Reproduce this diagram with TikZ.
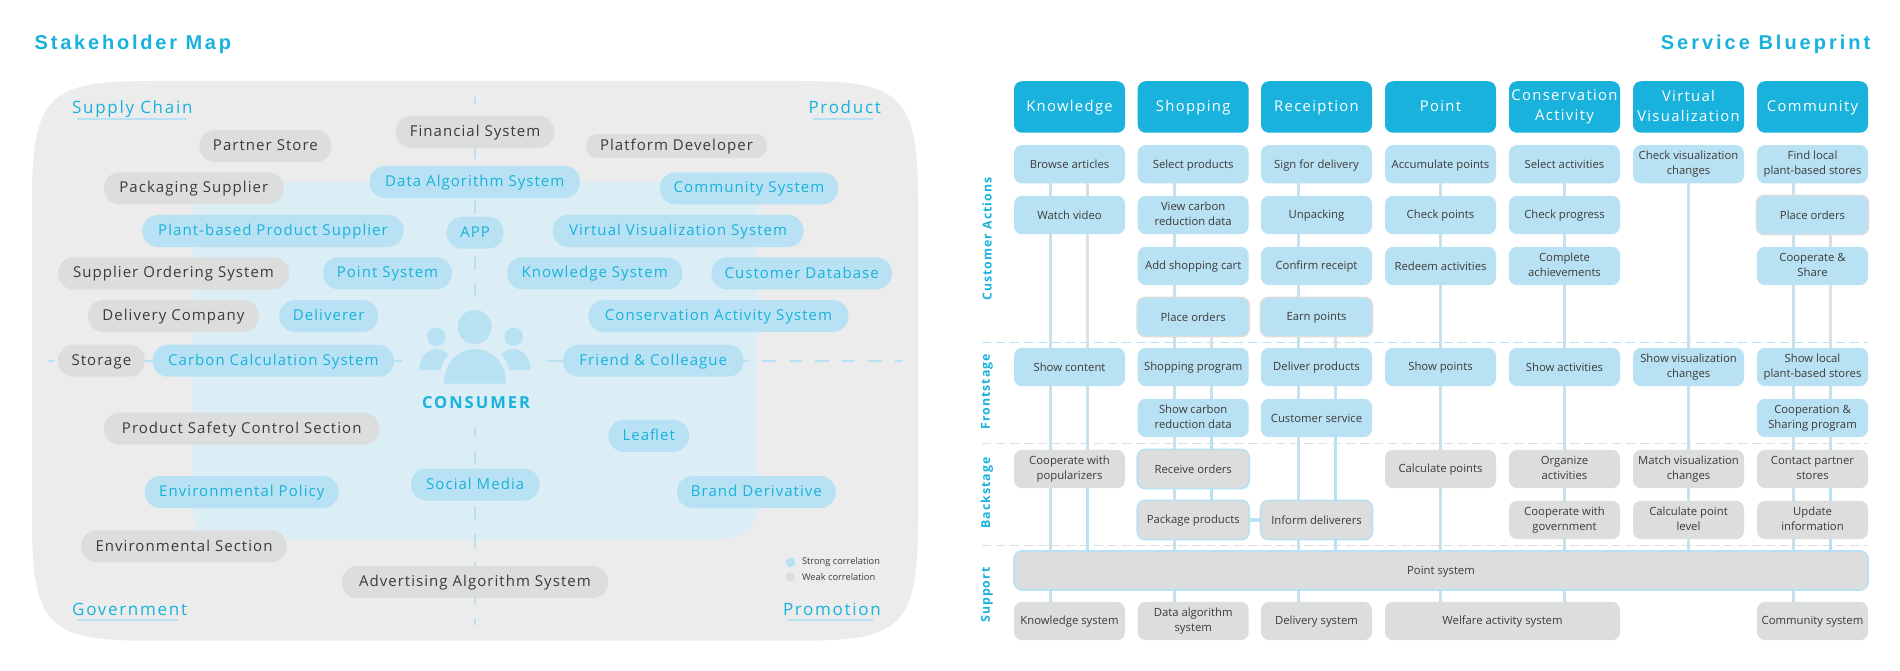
\documentclass[tikz,border=0pt]{standalone}
\usepackage{fontspec}
\usetikzlibrary{backgrounds}
\setmainfont{Open Sans}
\newfontfamily\mapfont[LetterSpace=7]{Open Sans}
\newfontfamily\cornerfont[LetterSpace=10]{Open Sans}
\newfontfamily\boxfont{Open Sans}
\newfontfamily\headfont[LetterSpace=9]{Open Sans}
\newfontfamily\sidefont[LetterSpace=8]{Open Sans}
\newfontfamily\titlefont[LetterSpace=14]{Liberation Sans}
\newfontfamily\bluefont[LetterSpace=15]{Liberation Sans}
\newfontfamily\consfont[LetterSpace=12]{Open Sans}
\definecolor{hcol}{HTML}{18B2DC}
\definecolor{lblue}{HTML}{B8E2F3}
\definecolor{lgray}{HTML}{DCDDDD}
\definecolor{ink}{HTML}{3E3A39}
\definecolor{panel}{HTML}{ECECEC}
\definecolor{inner}{HTML}{DBEEF6}
\definecolor{vmix}{HTML}{C8E0EB}
\definecolor{vgrey}{HTML}{D8E3E9}
\tikzset{
  strutted/.code 2 args={\pgfkeysalso{execute at begin node={\rule{0pt}{#1pt}},execute at end node={\rule[-#2pt]{0pt}{#2pt}}}},
  pill/.style={rounded corners=15.5pt, minimum height=32pt, inner sep=0pt, outer sep=0pt, font=\mapfont\fontsize{15}{17}\selectfont, strutted={12.5}{3}},
  pillg/.style={pill, fill=lgray, text=ink},
  pillb/.style={pill, fill=lblue, text=hcol},
  corner/.style={inner sep=0pt, text=hcol, font=\cornerfont\fontsize{17}{20}\selectfont, strutted={15}{3}},
  under/.style={draw=lblue, line width=2pt},
  axis/.style={draw=lblue, line width=2pt},
  title/.style={inner sep=0pt, text=hcol, font=\titlefont\bfseries\fontsize{20}{22}\selectfont, strutted={15}{1}},
  titleb/.style={title, font=\bluefont\bfseries\fontsize{20}{22}\selectfont},
  head/.style={fill=hcol, rounded corners=8pt, minimum width=111pt, minimum height=51.5pt, inner sep=0pt, outer sep=0pt, text=white, align=center, font=\headfont\fontsize{14.8}{20}\selectfont, strutted={12.5}{3}},
  cell/.style={rounded corners=8pt, minimum width=111pt, minimum height=38.3pt, inner sep=0pt, outer sep=0pt, text=ink, align=center, font=\boxfont\fontsize{11.3}{15}\selectfont, strutted={10.5}{2}},
  cellb/.style={cell, fill=lblue},
  cellg/.style={cell, fill=lgray},
  cellbo/.style={cellb, draw=lgray, line width=1.6pt, minimum width=112pt, minimum height=39.3pt},
  cellgo/.style={cellg, draw=lblue, line width=1.6pt, minimum width=112pt, minimum height=39.3pt},
  side/.style={rotate=90, inner sep=0pt, text=hcol, font=\sidefont\bfseries\fontsize{12.3}{15}\selectfont},
  band/.style={line width=1pt, dash pattern=on 9pt off 5pt},
  vmixl/.style={draw=vmix, line width=3.2pt},
  vgreyl/.style={draw=vgrey, line width=3.2pt},
  vgl/.style={draw=lgray, line width=3.2pt},
  vbl/.style={draw=lblue, line width=3.2pt},
  legend/.style={inner sep=0pt, anchor=west, text=ink, font=\boxfont\fontsize{9.3}{10}\selectfont},
  iconpart/.style={fill=lblue, draw=none}
}
\def\xA{1069.5}\def\xB{1193.2}\def\xC{1316.5}\def\xD{1440.5}\def\xE{1564.5}\def\xF{1688.5}\def\xG{1812.5}
\def\yA{164.25}\def\yB{215}\def\yC{266}\def\yD{317}\def\yE{367}\def\yF{418}\def\yG{469}\def\yH{520}\def\yI{621}
\begin{document}
\begin{tikzpicture}[x=1pt,y=-1pt]
\useasboundingbox (0,0) rectangle (1900,671);
% ---------- titles
\node[title,anchor=west] (tmap) at (34.5,43.6) {Stakeholder Map};
\node[titleb,anchor=east] (tblue) at (1870.5,43.6) {Service Blueprint};
% ---------- stakeholder pills
\node[pillg,minimum width=158.7pt] (fin) at (475.1,131.8) {Financial System};
\node[pillg,minimum width=132.1pt] (partner) at (265.4,146) {Partner Store};
\node[pillg,minimum width=181pt,minimum height=24pt,rounded corners=11.5pt] (platform) at (676.5,146) {Platform Developer};
\node[pillb,minimum width=210.3pt] (data) at (474.8,182) {Data Algorithm System};
\node[pillg,minimum width=179.6pt] (pack) at (193.8,188.3) {Packaging Supplier};
\node[pillb,minimum width=178pt] (comm) at (749,188.3) {Community System};
\node[pillb,minimum width=261.2pt] (plant) at (273,231) {Plant-based Product Supplier};
\node[pillb,minimum width=56.9pt] (app) at (475.1,232.7) {APP};
\node[pillb,minimum width=250.9pt] (virt) at (678.1,231) {Virtual Visualization System};
\node[pillg,minimum width=231pt] (order) at (173.5,273.3) {Supplier Ordering System};
\node[pillb,minimum width=129pt] (point) at (387.5,273.3) {Point System};
\node[pillb,minimum width=175.4pt] (know) at (594.7,273.3) {Knowledge System};
\node[pillb,minimum width=180.5pt] (cust) at (801.7,273.3) {Customer Database};
\node[pillg,minimum width=170.8pt] (deliv) at (173.4,316) {Delivery Company};
\node[pillb,minimum width=98.6pt] (deliverer) at (328.7,316) {Deliverer};
\node[pillb,minimum width=260pt] (cons) at (718.5,316) {Conservation Activity System};
\node[pillg,minimum width=86.8pt] (store) at (101.4,360.7) {Storage};
\node[pillb,minimum width=241.3pt] (carbon) at (273.3,360.7) {Carbon Calculation System};
\node[pillb,minimum width=180.6pt] (friend) at (653.3,360.7) {Friend \& Colleague};
\node[pillg,minimum width=275.4pt] (safety) at (241.7,428.7) {Product Safety Control Section};
\node[pillb,minimum width=80.5pt] (leaf) at (648.7,435.8) {Leaflet};
\node[pillb,minimum width=128.4pt] (social) at (475.2,484.5) {Social Media};
\node[pillb,minimum width=194pt] (envpol) at (241.8,492) {Environmental Policy};
\node[pillb,minimum width=158.8pt] (brand) at (756.4,492) {Brand Derivative};
\node[pillg,minimum width=205.5pt] (envsec) at (184,546.3) {Environmental Section};
\node[pillg,minimum width=266.1pt] (adv) at (474.9,582) {Advertising Algorithm System};
% ---------- corner labels
\node[corner,anchor=west] (lsupply) at (72,108) {Supply Chain};
\node[corner,anchor=east] (lproduct) at (881,108) {Product};
\node[corner,anchor=west] (lgov) at (72,609) {Government};
\node[corner,anchor=east] (lpromo) at (881,609) {Promotion};
% ---------- consumer
\node[inner sep=0pt,text=hcol,font=\consfont\bfseries\fontsize{16.5}{18}\selectfont] (consumer) at (476,402.3) {CONSUMER};
% ---------- legend
\node[circle,fill=lblue,inner sep=0pt,minimum size=9.5pt] (lega) at (790.3,562.3) {};
\node[circle,fill=lgray,inner sep=0pt,minimum size=9.5pt] (legb) at (790.3,577) {};
\node[legend] (legat) at (801.8,562) {Strong correlation};
\node[legend] (legbt) at (801.8,577) {Weak correlation};
% ---------- blueprint headers
\node[head] (h1) at (\xA,107) {Knowledge};
\node[head] (h2) at (\xB,107) {Shopping};
\node[head] (h3) at (\xC,107) {Receiption};
\node[head] (h4) at (\xD,107) {Point};
\node[head] (h5) at (\xE,107) {Conservation\\Activity};
\node[head] (h6) at (\xF,107) {Virtual\\Visualization};
\node[head] (h7) at (\xG,107) {Community};
% ---------- side labels
\node[side] (s1) at (987,239) {Customer Actions};
\node[side] (s2) at (987,391.7) {Frontstage};
\node[side] (s3) at (987,493) {Backstage};
\node[side] (s4) at (987,595) {Support};
% ---------- customer actions
\node[cellb] (a1) at (\xA,\yA) {Browse articles};
\node[cellb] (b1) at (\xA,\yB) {Watch video};
\node[cellb] (a2) at (\xB,\yA) {Select products};
\node[cellb] (b2) at (\xB,\yB) {View carbon\\reduction data};
\node[cellb] (c2) at (\xB,\yC) {Add shopping cart};
\node[cellbo] (d2) at (\xB,\yD) {Place orders};
\node[cellb] (a3) at (\xC,\yA) {Sign for delivery};
\node[cellb] (b3) at (\xC,\yB) {Unpacking};
\node[cellb] (c3) at (\xC,\yC) {Confirm receipt};
\node[cellbo] (d3) at (\xC,\yD) {Earn points};
\node[cellb] (a4) at (\xD,\yA) {Accumulate points};
\node[cellb] (b4) at (\xD,\yB) {Check points};
\node[cellb] (c4) at (\xD,\yC) {Redeem activities};
\node[cellb] (a5) at (\xE,\yA) {Select activities};
\node[cellb] (b5) at (\xE,\yB) {Check progress};
\node[cellb] (c5) at (\xE,\yC) {Complete\\achievements};
\node[cellb] (a6) at (\xF,\yA) {Check visualization\\changes};
\node[cellb] (a7) at (\xG,\yA) {Find local\\plant-based stores};
\node[cellbo] (b7) at (\xG,\yB) {Place orders};
\node[cellb] (c7) at (\xG,\yC) {Cooperate \&\\Share};
% ---------- frontstage
\node[cellb] (e1) at (\xA,\yE) {Show content};
\node[cellb] (e2) at (\xB,\yE) {Shopping program};
\node[cellb] (f2) at (\xB,\yF) {Show carbon\\reduction data};
\node[cellb] (e3) at (\xC,\yE) {Deliver products};
\node[cellb] (f3) at (\xC,\yF) {Customer service};
\node[cellb] (e4) at (\xD,\yE) {Show points};
\node[cellb] (e5) at (\xE,\yE) {Show activities};
\node[cellb] (e6) at (\xF,\yE) {Show visualization\\changes};
\node[cellb] (e7) at (\xG,\yE) {Show local\\plant-based stores};
\node[cellb] (f7) at (\xG,\yF) {Cooperation \&\\Sharing program};
% ---------- backstage
\node[cellg] (g1) at (\xA,\yG) {Cooperate with\\popularizers};
\node[cellgo] (g2) at (\xB,\yG) {Receive orders};
\node[cellgo] (h2b) at (\xB,\yH) {Package products};
\node[cellgo] (h3b) at (\xC,\yH) {Inform deliverers};
\node[cellg] (g4) at (\xD,\yG) {Calculate points};
\node[cellg] (g5) at (\xE,\yG) {Organize\\activities};
\node[cellg] (h5b) at (\xE,\yH) {Cooperate with\\government};
\node[cellg] (g6) at (\xF,\yG) {Match visualization\\changes};
\node[cellg] (h6b) at (\xF,\yH) {Calculate point\\level};
\node[cellg] (g7) at (\xG,\yG) {Contact partner\\stores};
\node[cellg] (h7b) at (\xG,\yH) {Update\\information};
% ---------- support
\node[cellgo,minimum width=854pt,minimum height=39pt] (bar) at (1441,570.5) {Point system};
\node[cellg] (i1) at (\xA,\yI) {Knowledge system};
\node[cellg] (i2) at (\xB,\yI) {Data algorithm\\system};
\node[cellg] (i3) at (\xC,\yI) {Delivery system};
\node[cellg,minimum width=235pt] (i45) at (1502.5,\yI) {Welfare activity system};
\node[cellg] (i7) at (\xG,\yI) {Community system};
% ---------- column guides
\coordinate (g1l) at (1050.7,0);\coordinate (g1r) at (1087.7,0);
\coordinate (g2l) at (1174.7,0);\coordinate (g2r) at (1211.7,0);
\coordinate (g3l) at (1298.3,0);\coordinate (g3r) at (1335.3,0);
\coordinate (g4l) at (1440.7,0);\coordinate (g5l) at (1564.3,0);
\coordinate (g6l) at (1688.3,0);
\coordinate (g7l) at (1793.7,0);\coordinate (g7r) at (1830.7,0);
% ---------- icon and connectors behind the nodes
\begin{scope}[on background layer]
  \fill[white] (0,0) rectangle (1900,671);
  % stakeholder panel
  \fill[panel] (32,200) .. controls (32,95) and (50,81) .. (150,81) -- (800,81)
    .. controls (900,81) and (918,95) .. (918,200) -- (918,522)
    .. controls (918,627) and (900,640.7) .. (800,640.7) -- (150,640.7)
    .. controls (50,640.7) and (32,627) .. (32,522) -- cycle;
  \fill[inner] (193,182) -- (757.6,182) -- (757,505)
    .. controls (756,528) and (745,539.3) .. (715,539.3) -- (222,539.3)
    .. controls (200,539.3) and (193,528) .. (193,505) -- cycle;
  % axes of the map
  \coordinate (vt) at (475,97);\coordinate (vm) at (475,296);
  \coordinate (vn) at (475,427);\coordinate (vb) at (475,625);
  \draw[axis,dash pattern=on 14pt off 13.6pt,dash phase=7pt] (vt) -- (vm);
  \draw[axis,dash pattern=on 14pt off 13.8pt,dash phase=4pt] (vn) -- (vb);
  \coordinate (hl) at (48,360.7);\coordinate (hr) at (402,360.7);
  \coordinate (hs) at (548,360.7);\coordinate (he) at (903,360.7);
  \draw[axis] (hl) -- (54.5,360.7);
  \draw[axis] (store) -- (carbon);
  \draw[axis] (carbon.east) -- (hr);
  \draw[axis] (hs) -- (friend.west);
  \draw[axis] (friend.east) -- (748,360.7);
  \draw[axis,dash pattern=on 13.5pt off 13pt] (762,360.7) -- (he);
  % underlines
  \draw[under] (77,119) -- (186.7,119);
  \draw[under] (813,119) -- (873.3,119);
  \draw[under] (77,620.3) -- (178,620.3);
  \draw[under] (788,620.3) -- (873,620.3);
  % consumer icon
  \fill[iconpart] (474.7,327) circle (17);
  \fill[iconpart] (436.3,336.7) circle (9.3);
  \fill[iconpart] (513.7,336.7) circle (9.3);
  \fill[iconpart] (444,383.7) .. controls (444,363) and (458,349) .. (475,349) .. controls (492,349) and (506,363) .. (506,383.7) -- cycle;
  \fill[iconpart] (419.3,370) .. controls (419.3,358) and (427,349) .. (436.5,349) .. controls (441,349) and (445,351) .. (448.7,354.5) .. controls (445,359) and (441.5,364) .. (440.3,370) -- cycle;
  \fill[iconpart] (530.7,370) .. controls (530.7,358) and (523,349) .. (513.5,349) .. controls (509,349) and (505,351) .. (501.3,354.5) .. controls (505,359) and (508.5,364) .. (509.7,370) -- cycle;
  % band separators
  \draw[band,draw=lblue] (982,342.3) -- (1868,342.3);
  \draw[band,draw=lgray] (982,443.3) -- (1868,443.3);
  \draw[band,draw=lgray] (982,545.3) -- (1868,545.3);
  % column 1
  \foreach \a/\b in {a1/b1,b1/e1,e1/g1,g1/bar,bar/i1}{\draw[vmixl] (g1l |- \a.south) -- (g1l |- \b.north);}
  \draw[vgl] (g1r |- a1.south) -- (g1r |- b1.north);
  \draw[vgreyl] (g1r |- b1.south) -- (g1r |- e1.north);
  \draw[vmixl] (g1r |- e1.south) -- (g1r |- g1.north);
  \draw[vbl] (g1r |- g1.south) -- (g1r |- bar.north);
  % column 2
  \foreach \a/\b in {a2/b2,b2/c2,c2/d2,d2/e2,e2/f2,f2/g2,g2/h2b,h2b/bar,bar/i2}{\draw[vmixl] (g2l |- \a.south) -- (g2l |- \b.north);}
  \draw[vgreyl] (g2r |- d2.south) -- (g2r |- e2.north);
  \draw[vmixl] (g2r |- e2.south) -- (g2r |- f2.north);
  \foreach \a/\b in {f2/g2,g2/h2b}{\draw[vbl] (g2r |- \a.south) -- (g2r |- \b.north);}
  % column 3
  \foreach \a/\b in {a3/b3,b3/c3,c3/d3,d3/e3,e3/f3,f3/h3b,h3b/bar,bar/i3}{\draw[vmixl] (g3l |- \a.south) -- (g3l |- \b.north);}
  \draw[vgreyl] (g3r |- d3.south) -- (g3r |- e3.north);
  \draw[vmixl] (g3r |- e3.south) -- (g3r |- f3.north);
  \foreach \a/\b in {f3/h3b,h3b/bar}{\draw[vbl] (g3r |- \a.south) -- (g3r |- \b.north);}
  % column 4
  \foreach \a/\b in {a4/b4,b4/c4,c4/e4,e4/g4,g4/bar,bar/i45}{\draw[vmixl] (g4l |- \a.south) -- (g4l |- \b.north);}
  % column 5
  \foreach \a/\b in {a5/b5,b5/c5,c5/e5,e5/g5,g5/h5b,h5b/bar,bar/i45}{\draw[vmixl] (g5l |- \a.south) -- (g5l |- \b.north);}
  % column 6
  \foreach \a/\b in {a6/e6,e6/g6,g6/h6b,h6b/bar}{\draw[vmixl] (g6l |- \a.south) -- (g6l |- \b.north);}
  % column 7
  \foreach \a/\b in {a7/b7,b7/c7,c7/e7,e7/f7,f7/g7,g7/h7b,h7b/bar,bar/i7}{\draw[vmixl] (g7l |- \a.south) -- (g7l |- \b.north);}
  \draw[vgl] (g7r |- b7.south) -- (g7r |- c7.north);
  \draw[vgreyl] (g7r |- c7.south) -- (g7r |- e7.north);
  \foreach \a/\b in {e7/f7,f7/g7}{\draw[vmixl] (g7r |- \a.south) -- (g7r |- \b.north);}
  \foreach \a/\b in {g7/h7b,h7b/bar}{\draw[vbl] (g7r |- \a.south) -- (g7r |- \b.north);}
  % hand-over between the two backstage boxes
  \draw[vbl] (h2b) -- (h3b);
\end{scope}
\end{tikzpicture}
\end{document}
